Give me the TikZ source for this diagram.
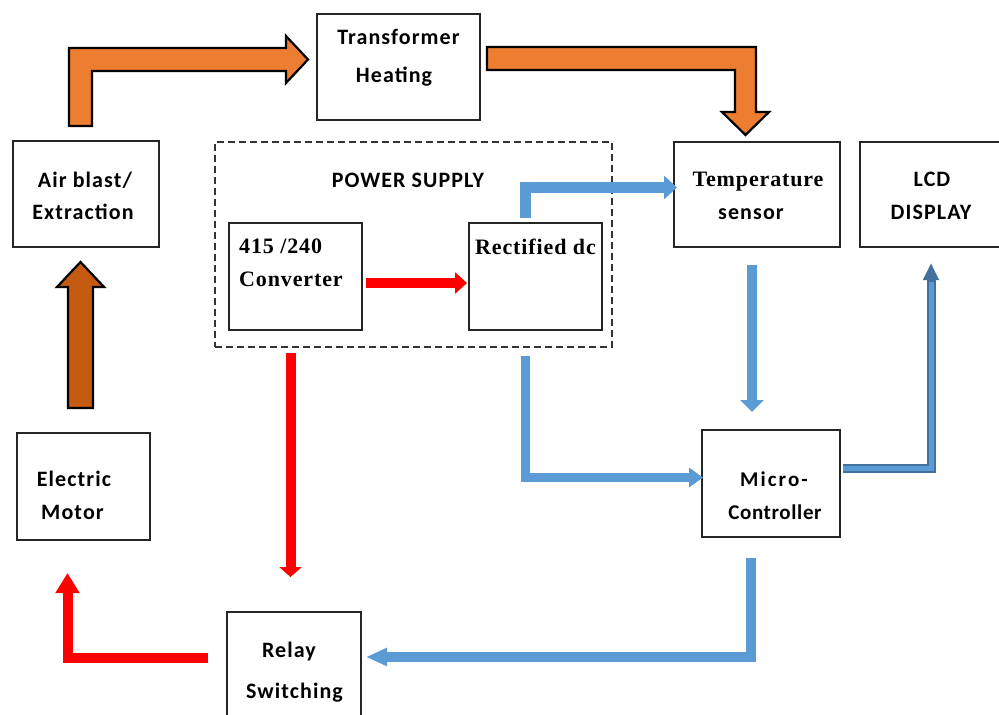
\documentclass[tikz,border=0pt]{standalone}
\usepackage{fontspec}
\setmainfont{Liberation Serif}[LetterSpace=4]
\newfontfamily\calfnt{Carlito}[LetterSpace=5]
\newfontfamily\calfntw{Carlito}[LetterSpace=10]
\newfontfamily\calfntc{Carlito}[LetterSpace=3]
\usetikzlibrary{arrows.meta,calc}
\definecolor{orng}{HTML}{ED7D31}
\definecolor{brwn}{HTML}{C55A11}
\definecolor{blu}{HTML}{5B9BD5}
\definecolor{dblu}{HTML}{41719C}
\definecolor{rd}{HTML}{FF0000}
\begin{document}
\begin{tikzpicture}[x=1pt,y=-1pt,
  box/.style={draw=black!85,line width=2.2pt,fill=white,inner sep=0pt,outer sep=0pt},
  ssf/.style={font=\calfnt\bfseries\fontsize{22}{24}\selectfont,anchor=base,inner sep=0pt},
  sef/.style={font=\bfseries\fontsize{22}{24}\selectfont,anchor=base,inner sep=0pt},
  fat/.style={draw=black,line width=2.2pt,line join=miter},
  redar/.style={draw=rd,line width=10pt,line join=miter},
  bluar/.style={draw=blu,line width=10pt,line join=miter}]
\useasboundingbox (0,0) rectangle (999,715);
\clip (0,0) rectangle (999,715);
% boxes
\node[box,minimum width=163,minimum height=106] (trans) at (398.5,67) {};
\node[box,minimum width=146,minimum height=106] (air) at (86,194) {};
\node[draw=black!80,line width=1.5pt,dash pattern=on 7pt off 4pt,inner sep=0pt,minimum width=397,minimum height=205] (ps) at (413.5,244.5) {};
\node[box,minimum width=133,minimum height=107] (conv) at (295.5,276.5) {};
\node[box,minimum width=133,minimum height=107] (rect) at (535.5,276.5) {};
\node[box,minimum width=166,minimum height=105] (temp) at (757,194.5) {};
\node[box,minimum width=160,minimum height=105] (lcd) at (940,194.5) {};
\node[box,minimum width=138,minimum height=107] (micro) at (771,483.5) {};
\node[box,minimum width=133,minimum height=107] (motor) at (83.5,486.5) {};
\node[box,minimum width=134,minimum height=130] (relay) at (294,677) {};
% texts
\node[ssf] (t1) at (398.5,44) {Transformer};
\node[ssf] (t2) at (394,82) {Heating};
\node[ssf] (t3) at (85,187) {Air blast/};
\node[ssf] (t4) at (83,219) {Extraction};
\node[ssf] (t5) at (408,187) {POWER SUPPLY};
\node[sef,anchor=base west] (t6) at (239,253) {415 /240};
\node[sef,anchor=base west] (t7) at (239,286) {Converter};
\node[sef,anchor=base west] (t8) at (475,254) {Rectified dc};
\node[sef] (t9) at (758,186) {Temperature};
\node[ssf] (t10) at (751,219) {sensor};
\node[ssf] (t11) at (932,186) {LCD};
\node[ssf] (t12) at (931,219) {DISPLAY};
\node[ssf,font=\calfntw\bfseries\fontsize{21}{24}\selectfont] (t13) at (774,486) {Micro-};
\node[ssf,font=\calfntc\bfseries\fontsize{21}{24}\selectfont] (t14) at (775,519) {Controller};
\node[ssf] (t15) at (74,486) {Electric};
\node[ssf] (t16) at (72.5,519) {Motor};
\node[ssf] (t17) at (289,657) {Relay};
\node[ssf] (t18) at (294.5,698) {Switching};
% orange / brown block arrows
\filldraw[fat,fill=orng] (69,126) -- (69,48) -- (286,48) -- (286,36) -- (308,59.5) -- (286,83) -- (286,71) -- (92,71) -- (92,126) -- cycle;
\filldraw[fat,fill=orng] (487,47) -- (756,47) -- (756,112) -- (769,112) -- (745.5,135) -- (722,112) -- (735,112) -- (735,70) -- (487,70) -- cycle;
\filldraw[fat,fill=brwn] (68,408) -- (68,287) -- (57,287) -- (80.5,262) -- (104,287) -- (93,287) -- (93,408) -- cycle;
% red arrows
\draw[redar,-{Triangle[length=12pt,width=21pt]}] ([xshift=4]conv.east |- 0,283) -- ([xshift=-2]rect.west |- 0,283);
\coordinate (rdtip) at (290.5,577);
\draw[redar,-{Triangle[length=10pt,width=22pt]}] (ps.south -| rdtip) ++(0,5) -- (rdtip);
\coordinate (mtip) at (67.5,573);
\draw[redar,-{Triangle[length=20pt,width=23pt]}] ([xshift=-19]relay.west |- 0,658) -| (mtip);
% blue arrows
\draw[bluar,line width=11pt,-{Triangle[length=13pt,width=23pt]}] ([yshift=5]rect.north -| 525,0) |- ([xshift=3]temp.west |- 0,187.5);
\draw[bluar,-{Triangle[length=12pt,width=23pt]}] (752,265) -- ([yshift=18]micro.north -| 752,0);
\draw[bluar,line width=9.5pt,-{Triangle[length=14pt,width=19pt]}] ([yshift=-8]ps.south -| 525.5,0) |- ([xshift=1]micro.west |- 0,477.5);
\draw[dblu,line width=9pt,line join=miter,-{Triangle[length=17pt,width=15pt]}] ([xshift=3]micro.east |- 0,468) -| (931,263);
\draw[blu,line width=5pt,line join=miter] ([xshift=3]micro.east |- 0,468) -| (931,282);
\draw[bluar,line width=9.5pt,-{Triangle[length=21pt,width=17pt]}] ([yshift=-21]micro.south -| 751,0) |- ([xshift=5]relay.east |- 0,657);
\end{tikzpicture}
\end{document}
